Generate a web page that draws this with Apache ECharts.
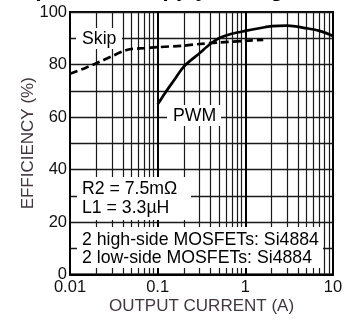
<!DOCTYPE html>
<html>
<head>
<meta charset="utf-8">
<style>
  html, body { margin: 0; padding: 0; background: #fff; }
  #main { width: 354px; height: 320px; }
</style>
<script src="https://cdn.jsdelivr.net/npm/echarts@6/dist/echarts.min.js"></script>
</head>
<body>
<div id="main"></div>
<script>
  // skip mode (dashed)
  const skipCurrent = [0.01, 0.015, 0.02, 0.03, 0.04, 0.05, 0.07, 0.1, 0.2, 0.3, 0.5, 1, 1.6];
  const skipEff = [76.5, 78.7, 80.5, 83.1, 85.0, 85.9, 86.2, 86.6, 87.2, 87.8, 88.4, 89.0, 89.4];

  // PWM mode (solid)
  const pwmCurrent = [0.1, 0.12, 0.15, 0.2, 0.3, 0.4, 0.5, 0.7, 1, 1.5, 2, 3, 5, 7, 10];
  const pwmEff = [64.8, 68.9, 73.5, 79.3, 84.3, 87.9, 90.0, 91.7, 92.8, 93.9, 94.6, 94.8, 93.8, 92.8, 90.9];

  const xTickValues = [0.01, 0.1, 1, 10];
  const yTickValues = [0, 20, 40, 60, 80, 100];

  const FONT = '"Liberation Sans", Arial, sans-serif';

  // log grid lines 2..9 per decade
  const minorLines = [];
  const decadeLines = [];
  for (let d = 0.01; d < 10; d *= 10) {
    for (let k = 2; k <= 9; k++) {
      minorLines.push({ xAxis: +(d * k).toPrecision(3) });
    }
    if (d > 0.01) decadeLines.push({ xAxis: +d.toPrecision(3) });
  }

  const chart = echarts.init(document.getElementById('main'));

  const box = (x, y, w, h) => ({
    type: 'rect',
    z: 100,
    shape: { x: x, y: y, width: w, height: h },
    style: { fill: '#fff' }
  });
  const label = (x, y, text) => ({
    type: 'text',
    z: 101,
    x: x,
    y: y,
    style: { text: text, font: '17.7px ' + FONT, fill: '#000', verticalAlign: 'middle' }
  });

  const option = {
    animation: false,
    grid: {
      left: 70, right: 21, top: 12, bottom: 44,
      show: true, borderColor: '#000', borderWidth: 2
    },
    xAxis: {
      type: 'log',
      logBase: 10,
      min: 0.01,
      max: 10,
      name: 'OUTPUT CURRENT (A)',
      nameLocation: 'middle',
      nameGap: 23.5,
      nameMoveOverlap: false,
      nameTextStyle: { fontFamily: FONT, fontSize: 17, color: '#40373f' },
      axisLine: { show: true, lineStyle: { color: '#000', width: 2 } },
      axisTick: { show: false },
      splitLine: { show: false },
      axisLabel: {
        fontFamily: FONT, fontSize: 16.5, color: '#111', margin: 4,
        formatter: v => xTickValues.indexOf(+v.toPrecision(3)) >= 0 ? String(+v.toPrecision(3)) : ''
      }
    },
    yAxis: {
      type: 'value',
      min: 0,
      max: 100,
      interval: 10,
      name: 'EFFICIENCY (%)',
      nameLocation: 'middle',
      nameGap: 33,
      nameMoveOverlap: false,
      nameTextStyle: { fontFamily: FONT, fontSize: 17, color: '#40373f' },
      axisLine: { show: true, lineStyle: { color: '#000', width: 2 } },
      axisTick: { show: false },
      splitLine: { show: true, lineStyle: { color: '#1a1a1a', width: 1.3 } },
      axisLabel: {
        fontFamily: FONT, fontSize: 16.5, color: '#111', margin: 3,
        formatter: v => yTickValues.indexOf(v) >= 0 ? String(v) : ''
      }
    },
    series: [
      {
        name: 'grid',
        type: 'line',
        data: [],
        silent: true,
        markLine: {
          silent: true,
          symbol: 'none',
          label: { show: false },
          animation: false,
          lineStyle: { color: '#1a1a1a', width: 1.2, type: 'solid' },
          data: minorLines.concat(decadeLines.map(d => Object.assign({ lineStyle: { width: 2, color: '#000', type: 'solid' } }, d)))
        }
      },
      {
        name: 'Skip',
        type: 'line',
        data: skipCurrent.map((c, i) => [c, skipEff[i]]),
        showSymbol: false,
        smooth: 0.3,
        z: 5,
        lineStyle: { color: '#000', width: 2.7, type: [8, 4] }
      },
      {
        name: 'PWM',
        type: 'line',
        data: pwmCurrent.map((c, i) => [c, pwmEff[i]]),
        showSymbol: false,
        smooth: 0.3,
        z: 5,
        lineStyle: { color: '#000', width: 2.7 }
      }
    ],
    graphic: [
      {
        type: 'text', z: 101, x: 33, y: -10,
        style: { text: '(External-Supply Configuration)', font: 'bold 22px ' + FONT, fill: '#000', verticalAlign: 'middle' }
      },
      box(76, 28, 46, 21), label(82, 39.5, 'Skip'),
      box(167, 105, 54, 21), label(173, 116, 'PWM'),
      box(77, 177, 114, 43), label(82, 189, 'R2 = 7.5mΩ'), label(82, 208, 'L1 = 3.3µH'),
      box(77, 227, 246, 41), label(82, 240, '2 high-side MOSFETs: Si4884'), label(82, 258.5, '2 low-side MOSFETs: Si4884')
    ]
  };

  chart.setOption(option);
</script>
</body>
</html>
